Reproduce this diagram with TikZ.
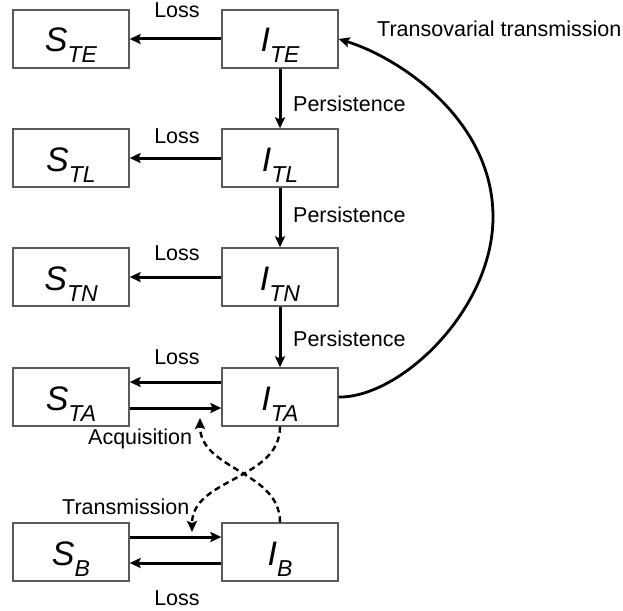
\documentclass[tikz,border=0pt]{standalone}
\usepackage{fontspec}
\setmainfont{Liberation Sans}
\usetikzlibrary{arrows.meta}
\definecolor{boxline}{RGB}{90,90,90}
% compartment label: big italic letter with a lowered italic subscript
\newcommand{\compart}[2]{{\fontsize{34}{34}\selectfont\itshape #1}\raisebox{-11pt}{\fontsize{23}{23}\selectfont\itshape #2}}
\begin{document}
\begin{tikzpicture}[x=1pt,y=-1pt,
  box/.style={draw=boxline, line width=1.3pt, minimum width=116pt, minimum height=58pt,
    inner sep=0pt, text height=42pt, text depth=16pt},
  flow/.style={line width=3pt, -{Stealth[length=11pt,width=10pt,inset=2pt]}},
  dflow/.style={line width=2.4pt, dash pattern=on 6pt off 4pt, -{Stealth[length=11pt,width=10pt,inset=2pt]}},
  arc/.style={line width=2.8pt, -{Stealth[length=11pt,width=10pt,inset=2pt]}},
  lbl/.style={font=\fontsize{21.5}{24}\selectfont, inner sep=0pt}]
\useasboundingbox (0,0) rectangle (623,610);

% compartments
\node[box] (STE) at (71,39)  {\compart{S}{TE}};
\node[box] (ITE) at (280,39) {\compart{I}{TE}};
\node[box] (STL) at (71,158)  {\compart{S}{TL}};
\node[box] (ITL) at (280,158) {\compart{I}{TL}};
\node[box] (STN) at (71,277)  {\compart{S}{TN}};
\node[box] (ITN) at (280,277) {\compart{I}{TN}};
\node[box] (STA) at (71,397)  {\compart{S}{TA}};
\node[box] (ITA) at (280,397) {\compart{I}{TA}};
\node[box] (SB) at (71,552)  {\compart{S}{B}};
\node[box] (IB) at (280,552) {\compart{I}{B}};

% loss of infection
\draw[flow] (ITE.west) -- (STE.east);
\draw[flow] (ITL.west) -- (STL.east);
\draw[flow] (ITN.west) -- (STN.east);
\draw[flow] ([yshift=15pt]ITA.west) -- ([yshift=15pt]STA.east);
\draw[flow] ([yshift=-11pt]IB.west) -- ([yshift=-11pt]SB.east);

% acquisition / transmission
\draw[flow] ([yshift=-11pt]STA.east) -- ([yshift=-11pt]ITA.west);
\draw[flow] ([yshift=15pt]SB.east) -- ([yshift=15pt]IB.west);

% transstadial persistence
\draw[flow] (ITE.south) -- (ITL.north);
\draw[flow] (ITL.south) -- (ITN.north);
\draw[flow] (ITN.south) -- (ITA.north);

% transovarial transmission
\coordinate (arcR) at (493,217);
\draw[arc] (ITA.east) .. controls (400,398) and (493,310) .. (arcR)
  .. controls (493,120) and (400,58) .. (ITE.east);

% host-vector links
\coordinate (acqT) at (200,418);
\coordinate (trnT) at (192,532);
\draw[dflow] (ITA.south) .. controls (280,480) and (192,478) .. (trnT);
\draw[dflow] (IB.north) .. controls (280,471) and (200,470) .. (acqT);

% labels
\node[lbl, anchor=base] (lossTE) at (177,18)  {Loss};
\node[lbl, anchor=base] (lossTL) at (177,143) {Loss};
\node[lbl, anchor=base] (lossTN) at (177,260) {Loss};
\node[lbl, anchor=base] (lossTA) at (177,364) {Loss};
\node[lbl, anchor=base] (lossB)  at (177,605) {Loss};
\node[lbl, anchor=base west] (pers1) at (293,111) {Persistence};
\node[lbl, anchor=base west] (pers2) at (293,222) {Persistence};
\node[lbl, anchor=base west] (pers3) at (293,346) {Persistence};
\node[lbl, anchor=base west] (tov) at (377,37) {Transovarial transmission};
\node[lbl, anchor=base west] (acq) at (88,444) {Acquisition};
\node[lbl, anchor=base west] (trn) at (62,514) {Transmission};
\end{tikzpicture}
\end{document}
